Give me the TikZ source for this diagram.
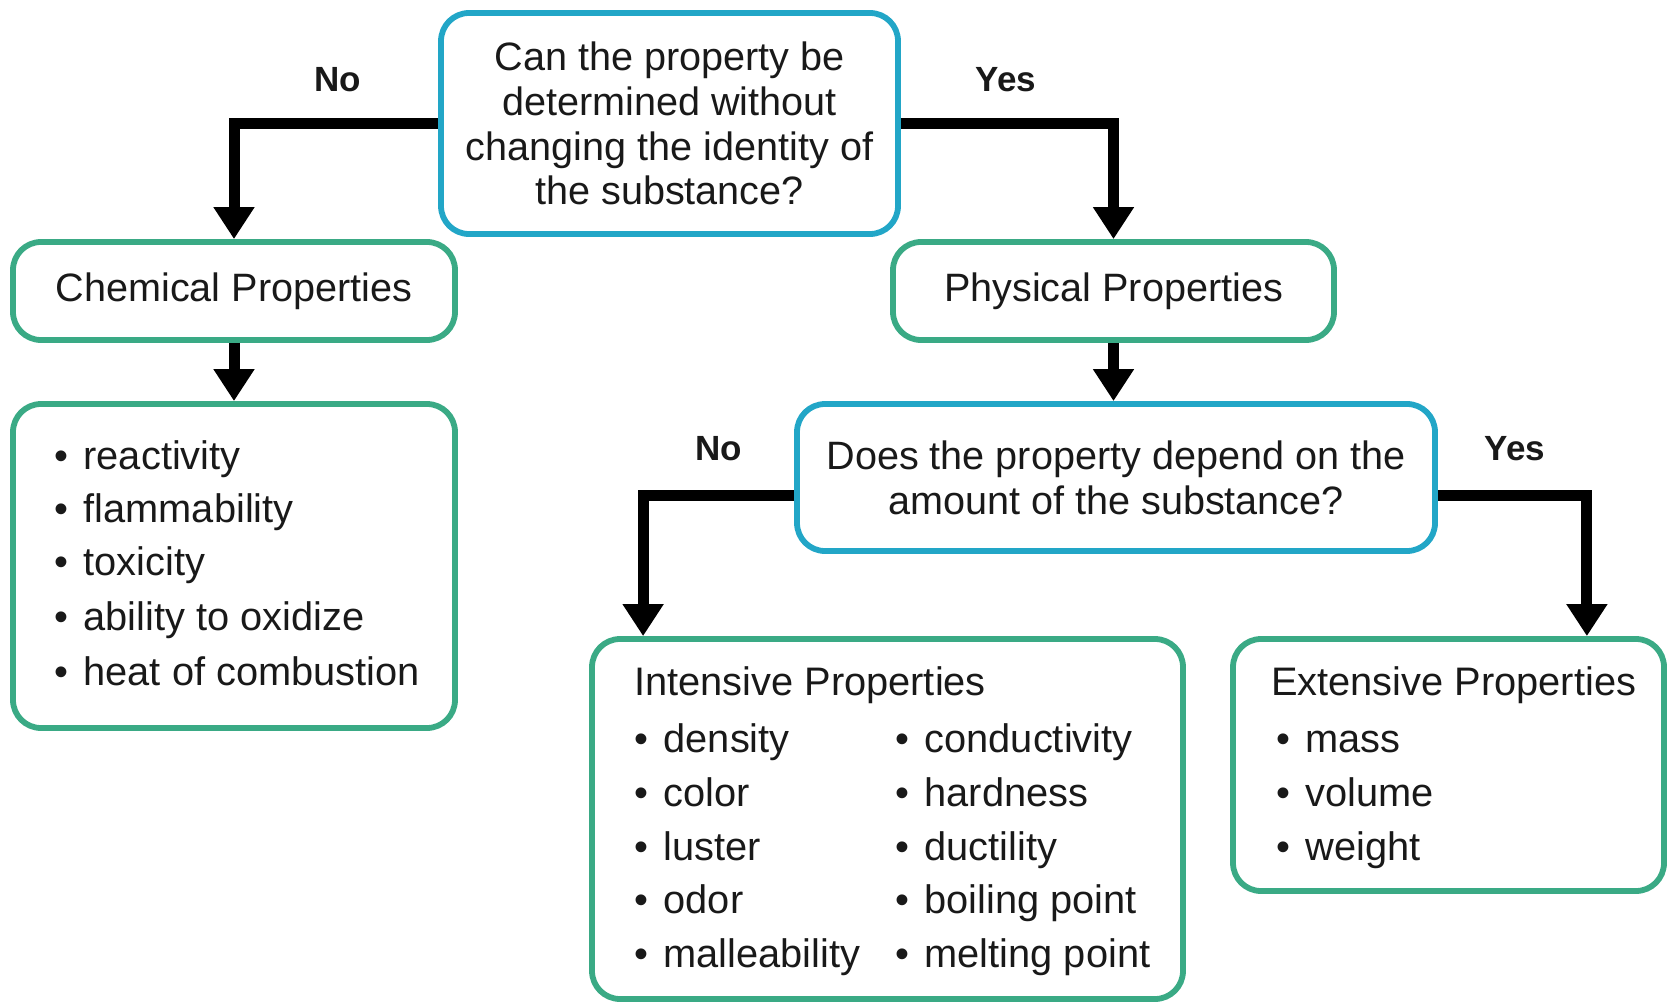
\documentclass[tikz,border=0pt]{standalone}
\usepackage{fontspec}
\setmainfont{Liberation Sans}
\usetikzlibrary{arrows.meta}
\definecolor{qblue}{RGB}{34,166,199}
\definecolor{pgreen}{RGB}{58,170,133}
\definecolor{ink}{RGB}{25,25,25}
\newcommand{\bul}{•\hspace{15.5pt}}
\begin{document}
\begin{tikzpicture}[x=1pt,y=-1pt,
  every node/.style={text=ink},
  boxbase/.style={line width=5.8pt, rounded corners=28pt, inner sep=0pt, align=center, font=\fontsize{39.6}{44.8}\selectfont},
  qbox/.style={boxbase, draw=qblue},
  gbox/.style={boxbase, draw=pgreen},
  item/.style={anchor=base west, inner sep=0pt, font=\fontsize{39.8}{45}\selectfont},
  lab/.style={inner sep=0pt, font=\fontsize{35}{40}\selectfont\bfseries},
  arr/.style={line width=11pt, -{Triangle[width=39pt,length=32pt]}}
]
\useasboundingbox (0,0) rectangle (1667,1003);

% boxes
\node[qbox, minimum width=457pt, minimum height=221pt] (q1) at (669.5,123.5)
  {\raisebox{0pt}{}Can the property be\\determined without\\changing the identity of\\the substance?};
\node[gbox, minimum width=442pt, minimum height=98pt] (chem) at (234,291) {Chemical Properties};
\node[gbox, minimum width=441pt, minimum height=98pt] (phys) at (1113.5,291) {Physical Properties};
\node[gbox, minimum width=442pt, minimum height=324pt] (clist) at (234,566) {};
\node[qbox, minimum width=638pt, minimum height=147pt] (q2) at (1116,477.5)
  {Does the property depend on the\\amount of the substance?};
\node[gbox, minimum width=591pt, minimum height=360pt] (int) at (887.5,819) {};
\node[gbox, minimum width=431pt, minimum height=252pt] (ext) at (1448.5,765) {};

% chemical list
\node[item] (c1) at (54,469) {\bul reactivity};
\node[item] (c2) at (54,522) {\bul flammability};
\node[item] (c3) at (54,575) {\bul toxicity};
\node[item] (c4) at (54,630) {\bul ability to oxidize};
\node[item] (c5) at (54,685) {\bul heat of combustion};

% intensive
\node[item] (ititle) at (634,695) {Intensive Properties};
\node[item] (i1) at (634,752) {\bul density};
\node[item] (i2) at (634,806) {\bul color};
\node[item] (i3) at (634,860) {\bul luster};
\node[item] (i4) at (634,913) {\bul odor};
\node[item] (i5) at (634,967) {\bul malleability};
\node[item] (i6) at (895,752) {\bul conductivity};
\node[item] (i7) at (895,806) {\bul hardness};
\node[item] (i8) at (895,860) {\bul ductility};
\node[item] (i9) at (895,913) {\bul boiling point};
\node[item] (i10) at (895,967) {\bul melting point};

% extensive
\node[item] (etitle) at (1271,695) {Extensive Properties};
\node[item] (e1) at (1276,752) {\bul mass};
\node[item] (e2) at (1276,806) {\bul volume};
\node[item] (e3) at (1276,860) {\bul weight};

% labels
\node[lab] (no1) at (338,80) {No};
\node[lab] (yes1) at (1006,80) {Yes};
\node[lab] (no2) at (719,449) {No};
\node[lab] (yes2) at (1515,449) {Yes};

% arrows
\draw[arr] (q1.west) -| (chem.north);
\draw[arr] (q1.east) -| (phys.north);
\draw[arr] (chem.south) -- (clist.north);
\draw[arr] (phys.south) -- (phys.south |- q2.north);
\draw[arr] ([yshift=-17.5pt]q2.west) -| ([xshift=54pt]int.north west);
\draw[arr] ([yshift=-17.5pt]q2.east) -| ([xshift=-80pt]ext.north east);
\end{tikzpicture}
\end{document}
